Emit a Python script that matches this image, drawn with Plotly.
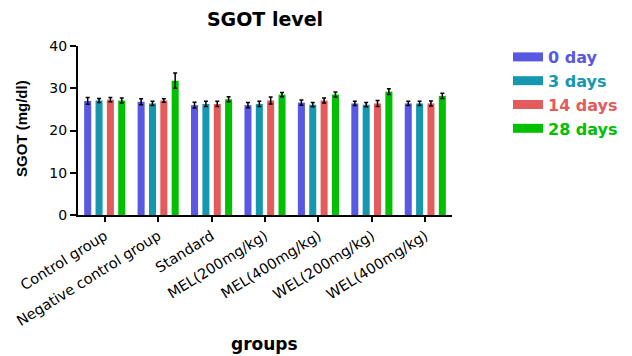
import plotly.graph_objects as go

groups = ["Control group", "Negative control group", "Standard", "MEL(200mg/kg)",
          "MEL(400mg/kg)", "WEL(200mg/kg)", "WEL(400mg/kg)"]
series_names = ["0 day", "3 days", "14 days", "28 days"]
day0 = [27.0, 26.8, 26.0, 26.0, 26.6, 26.4, 26.4]
day3 = [27.1, 26.4, 26.3, 26.3, 26.1, 26.1, 26.4]
day14 = [27.3, 27.1, 26.3, 27.1, 27.1, 26.4, 26.4]
day28 = [27.1, 31.8, 27.4, 28.5, 28.5, 29.2, 28.2]
err0 = [0.8, 0.7, 0.7, 0.6, 0.6, 0.5, 0.5]
err3 = [0.5, 0.5, 0.6, 0.6, 0.5, 0.5, 0.5]
err14 = [0.5, 0.4, 0.6, 0.8, 0.6, 0.7, 0.6]
err28 = [0.6, 1.8, 0.6, 0.5, 0.6, 0.7, 0.6]
colors = ["#5858E2", "#1597AF", "#E45B5B", "#00C000"]

# the page has an 8px body margin, so figure coords = page coords - 8
L, R, T, B = 70, 444, 38, 207
W, H = 632, 356
PW, PH = R - L, B - T

fig = go.Figure()
for name, vals, errs, col in zip(series_names, [day0, day3, day14, day28],
                                 [err0, err3, err14, err28], colors):
    fig.add_trace(go.Bar(
        x=groups, y=vals, name=name, showlegend=False,
        marker=dict(color=col, line=dict(width=0)),
        error_y=dict(type="data", array=errs, visible=True, color="black",
                     thickness=1.5, width=2),
    ))
# legend entries drawn as thick line swatches (rectangles)
for name, col in zip(series_names, colors):
    fig.add_trace(go.Scatter(
        x=[None], y=[None], mode="lines", line=dict(color=col, width=9),
        name=f"<b><span style='color:{col}'>{name}</span></b>",
        showlegend=True,
    ))

fig.update_layout(
    width=W, height=H,
    margin=dict(l=L, r=W - R, t=T, b=H - B),
    paper_bgcolor="white", plot_bgcolor="white",
    barmode="group", bargap=0.15, bargroupgap=0.38,
    font=dict(family="Liberation Sans, Arial, sans-serif", color="black"),
    title=dict(text="<b>SGOT level</b>", x=257 / W, xanchor="center",
               y=1 - 11 / H, yanchor="middle",
               font=dict(family="DejaVu Sans", size=19)),
    showlegend=True,
    legend=dict(x=(500 - L) / PW, y=(B - 32) / PH, xanchor="left", yanchor="top",
                font=dict(family="DejaVu Sans", size=16), tracegroupgap=0,
                itemwidth=30, bgcolor="rgba(0,0,0,0)"),
    xaxis=dict(
        automargin=False,
        showline=True, linecolor="black", linewidth=2,
        ticks="outside", ticklen=5, tickwidth=2, tickcolor="black",
        tickangle=-32, tickfont=dict(family="DejaVu Sans", size=14.5),
        showgrid=False,
    ),
    yaxis=dict(
        automargin=False,
        range=[0, 40], tickvals=[0, 10, 20, 30, 40],
        showline=True, linecolor="black", linewidth=2,
        ticks="outside", ticklen=6, tickwidth=2, tickcolor="black",
        tickfont=dict(family="DejaVu Sans", size=14), tickprefix="<b>", ticksuffix="</b>",
        showgrid=False, zeroline=False,
    ),
    annotations=[
        dict(text="<b>groups</b>", xref="paper", yref="paper",
             x=(256 - L) / PW, y=(B - 336) / PH, xanchor="center", yanchor="middle",
             showarrow=False, font=dict(family="DejaVu Sans", size=17)),
        dict(text="<b>SGOT (mg/dl)</b>", xref="paper", yref="paper",
             x=(14 - L) / PW, y=(B - 121) / PH, xanchor="center", yanchor="middle",
             textangle=-90, showarrow=False,
             font=dict(family="Liberation Sans", size=15)),
    ],
)

fig.write_html("out.html")
